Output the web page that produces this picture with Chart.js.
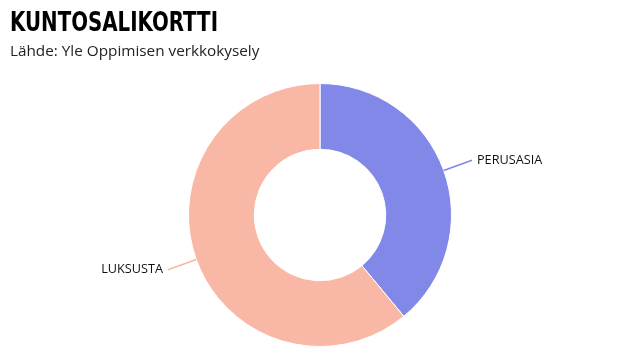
<!DOCTYPE html>
<html>
<head>
<meta charset="utf-8">
<script src="https://cdn.jsdelivr.net/npm/chart.js@4"></script>
<style>
  html, body { margin: 0; padding: 0; background: #fff; }
  #wrap { position: relative; width: 640px; height: 360px; }
  #title { position: absolute; left: 10px; top: 7px; font: bold 26px "DejaVu Sans Condensed", sans-serif; font-stretch: condensed; color: #000; white-space: nowrap; transform-origin: left top; }
  #subtitle { position: absolute; left: 10px; top: 40px; font: 15.3px "Open Sans", sans-serif; color: #222; white-space: nowrap; }
  canvas { position: absolute; left: 0; top: 0; }
</style>
</head>
<body>
<div id="wrap">
  <canvas id="chart" width="640" height="360"></canvas>
  <div id="title">KUNTOSALIKORTTI</div>
  <div id="subtitle">Lähde: Yle Oppimisen verkkokysely</div>
</div>
<script>
const categories = ['PERUSASIA', 'LUKSUSTA'];
const values = [39, 61];
const colors = ['#8188e8', '#f9b8a5'];

// squeeze the title to the width used in the original
const title = document.getElementById('title');
const tw = title.getBoundingClientRect().width;
title.style.transform = 'scaleX(' + (208 / tw) + ')';

const outerLabels = {
    id: 'outerLabels',
    afterDatasetsDraw(chart) {
        const ctx = chart.ctx;
        const meta = chart.getDatasetMeta(0);
        ctx.save();
        meta.data.forEach((arc, i) => {
            const p = arc.getProps(['x', 'y', 'startAngle', 'endAngle', 'outerRadius'], true);
            const mid = (p.startAngle + p.endAngle) / 2;
            const cos = Math.cos(mid), sin = Math.sin(mid);
            const x1 = p.x + cos * p.outerRadius, y1 = p.y + sin * p.outerRadius;
            const x2 = p.x + cos * (p.outerRadius + 30), y2 = p.y + sin * (p.outerRadius + 30);
            ctx.strokeStyle = colors[i];
            ctx.lineWidth = 1.7;
            ctx.beginPath();
            ctx.moveTo(x1, y1);
            ctx.lineTo(x2, y2);
            ctx.stroke();
            ctx.fillStyle = '#111';
            ctx.font = '12.7px "Open Sans", sans-serif';
            ctx.textBaseline = 'middle';
            if (cos >= 0) {
                ctx.textAlign = 'left';
                ctx.fillText(categories[i], x2 + 5, y2);
            } else {
                ctx.textAlign = 'right';
                ctx.fillText(categories[i], x2 - 5, y2);
            }
        });
        ctx.restore();
    }
};

new Chart(document.getElementById('chart'), {
    type: 'doughnut',
    data: {
        labels: categories,
        datasets: [{
            data: values,
            backgroundColor: colors,
            borderColor: '#ffffff',
            borderWidth: 1
        }]
    },
    options: {
        responsive: false,
        animation: false,
        cutout: '50%',
        layout: {
            padding: { top: 83, bottom: 13 }
        },
        plugins: {
            legend: { display: false },
            tooltip: { enabled: false }
        }
    },
    plugins: [outerLabels]
});
</script>
</body>
</html>
